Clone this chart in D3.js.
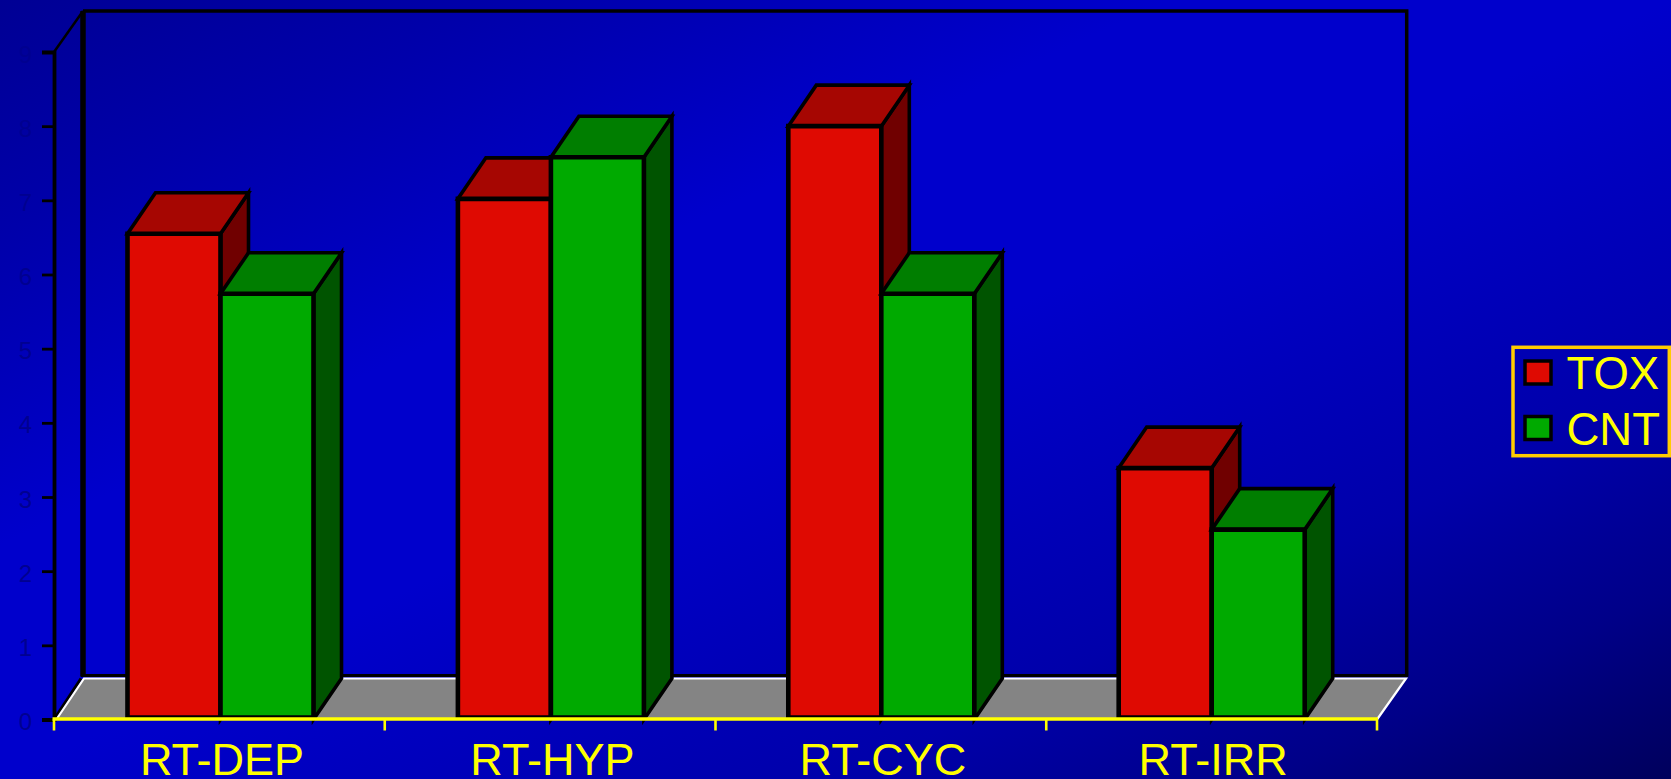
<!DOCTYPE html>
<html>
<head>
<meta charset="utf-8">
<script src="https://cdn.jsdelivr.net/npm/d3@7"></script>
<style>
html,body{margin:0;padding:0;background:#0000a0;overflow:hidden}
svg{display:block}
text{font-family:"Liberation Sans",Arial,sans-serif}
</style>
</head>
<body>
<svg id="chart" width="1671" height="779"></svg>
<script>
const categories = ["RT-DEP", "RT-HYP", "RT-CYC", "RT-IRR"];
const seriesNames = ["TOX", "CNT"];
const toxValues = [6.55, 7.02, 8.0, 3.39];
const cntValues = [5.74, 7.58, 5.74, 2.56];
const yTicks = [0, 1, 2, 3, 4, 5, 6, 7, 8, 9];

const frontColors = {TOX: "#df0a02", CNT: "#00aa00"};
const topColors = {TOX: "#a60602", CNT: "#007e00"};
const sideColors = {TOX: "#700000", CNT: "#005400"};

const W = 1671, H = 779;
const svg = d3.select("#chart");

// Oblique projection offset used by the walls, floor and bar extrusions
const depthX = 29, depthY = -41;
const barDepthX = 28;

const x = d3.scaleBand().domain(categories).range([55.3, 1376.9]).paddingInner(0.437).paddingOuter(0.2185);
const inner = d3.scaleBand().domain(seriesNames).range([0, x.bandwidth()]);
const y = d3.scaleLinear().domain([0, 9]).range([719.5, 52]);
const xEdge = d3.scalePoint().domain(d3.range(categories.length + 1)).range([54, 1377]);

// Diagonal backdrop; the gradient runs corner to corner of the page box
const defs = svg.append("defs");
const grad = defs.append("linearGradient").attr("id", "bg")
  .attr("x1", 0).attr("y1", 0).attr("x2", 1).attr("y2", 1);
[[0, "#000094"], [0.15, "#0000aa"], [0.35, "#0000cc"], [0.5, "#0000cc"], [0.75, "#0000aa"], [0.88, "#000088"], [1, "#00005c"]]
  .forEach(([o, c]) => grad.append("stop").attr("offset", o).attr("stop-color", c));
svg.append("rect").attr("width", W).attr("height", H).attr("fill", "url(#bg)");

const path = pts => d3.line()(pts) + "Z";
const y0 = y(0), yMax = y(9);
const xL = xEdge(0), xR = xEdge(categories.length);

// Floor
svg.append("path")
  .attr("d", path([[xL + 2, y0], [xL + depthX, y0 + depthY], [xR + depthX, y0 + depthY], [xR, y0]]))
  .attr("fill", "#848484");

// Walls
const walls = svg.append("g").attr("fill", "none").attr("stroke", "#000");
walls.append("path").attr("stroke-width", 5.5)
  .attr("d", d3.line()([[xL + depthX, y0 + depthY - 2], [xL + depthX, yMax + depthY]]));
walls.append("path").attr("stroke-width", 3.5)
  .attr("d", d3.line()([[xL + depthX, yMax + depthY], [xR + depthX + 0.7, yMax + depthY], [xR + depthX + 0.7, y0 + depthY - 2]]));
walls.append("path").attr("stroke-width", 3)
  .attr("d", d3.line()([[xL + depthX - 2, y0 + depthY - 3], [xR + depthX + 2, y0 + depthY - 3]]));
walls.append("path").attr("stroke-width", 2.5)
  .attr("d", d3.line()([[xL, yMax], [xL + depthX, yMax + depthY]]));
walls.append("path").attr("stroke-width", 3)
  .attr("d", d3.line()([[xL, y0], [xL + depthX - 2, y0 + depthY]]));

// Pale outline along the floor's back and outer edges
svg.append("path")
  .attr("d", d3.line()([[xL + 3, y0 - 1], [xL + depthX + 1, y0 + depthY], [xR + depthX, y0 + depthY], [xR, y0]]))
  .attr("fill", "none").attr("stroke", "#fff").attr("stroke-width", 2.2);

// Vertical axis with tick labels
const yAxis = svg.append("g").attr("transform", `translate(${xL},0)`)
  .call(d3.axisLeft(y).tickValues(yTicks).tickFormat(d3.format("d")).tickSize(12).tickPadding(10));
yAxis.selectAll("path.domain").attr("stroke", "#000").attr("stroke-width", 3.8);
yAxis.selectAll(".tick line").attr("stroke", "#000").attr("stroke-width", 2.8);
yAxis.selectAll(".tick text").attr("fill", "#000090").attr("font-size", 24).attr("dy", "0.42em")
  .attr("font-family", '"Liberation Sans",Arial,sans-serif');

// Extruded bars, one group per category
const barRows = categories.map((c, i) => ({category: c, TOX: toxValues[i], CNT: cntValues[i]}));
const groups = svg.append("g").selectAll("g").data(barRows).join("g")
  .attr("transform", d => `translate(${x(d.category)},0)`);
const bars = groups.selectAll("g").data(d => seriesNames.map(s => ({s, v: d[s]}))).join("g");
const outline = (sel, w) => sel.attr("stroke", "#000").attr("stroke-width", w).attr("stroke-linejoin", "miter");
bars.append("path").attr("fill", d => sideColors[d.s]).call(outline, 3.6)
  .attr("d", d => {
    const r = inner(d.s) + inner.bandwidth();
    return path([[r, y0], [r, y(d.v)], [r + barDepthX, y(d.v) + depthY], [r + barDepthX, y0 + depthY]]);
  });
bars.append("path").attr("fill", d => topColors[d.s]).call(outline, 3.6)
  .attr("d", d => {
    const l = inner(d.s), r = l + inner.bandwidth();
    return path([[l, y(d.v)], [l + barDepthX, y(d.v) + depthY], [r + barDepthX, y(d.v) + depthY], [r, y(d.v)]]);
  });
bars.append("path").attr("fill", d => frontColors[d.s]).call(outline, 4.6)
  .attr("d", d => {
    const l = inner(d.s), r = l + inner.bandwidth();
    return path([[l, y0 - 2], [l, y(d.v)], [r, y(d.v)], [r, y0 - 2]]);
  });

// Horizontal axis on the front edge of the floor
const axisG = svg.append("g").attr("stroke", "#ffff00").attr("fill", "none");
axisG.append("path").attr("stroke-width", 3.4).attr("d", d3.line()([[xL - 1.5, y0 - 0.5], [xR + 1, y0 - 0.5]]));
axisG.selectAll("line").data(xEdge.domain()).join("line")
  .attr("x1", d => xEdge(d)).attr("x2", d => xEdge(d))
  .attr("y1", y0).attr("y2", y0 + 11).attr("stroke-width", 2.6);
svg.append("g").selectAll("text").data(categories).join("text")
  .attr("x", d => x(d) + x.bandwidth() / 2 + 1.5)
  .attr("y", 775).attr("text-anchor", "middle")
  .attr("font-size", 45).attr("fill", "#ffff00")
  .text(d => d);

// Legend
const legend = svg.append("g");
legend.append("rect").attr("x", 1513).attr("y", 347.3).attr("width", 156.3).attr("height", 108.4)
  .attr("fill", "none").attr("stroke", "#ffcc00").attr("stroke-width", 3.5);
const legendY = d3.scalePoint().domain(seriesNames).range([372, 427.5]);
const items = legend.selectAll("g").data(seriesNames).join("g")
  .attr("transform", d => `translate(0,${legendY(d)})`);
items.append("rect").attr("x", 1525).attr("y", -11).attr("width", 26).attr("height", 23)
  .attr("fill", d => frontColors[d]).attr("stroke", "#000").attr("stroke-width", 3.5);
items.append("text").attr("x", 1566.5).attr("y", 17)
  .attr("font-size", 45.5).attr("fill", "#ffff00").text(d => d);
</script>
</body>
</html>
